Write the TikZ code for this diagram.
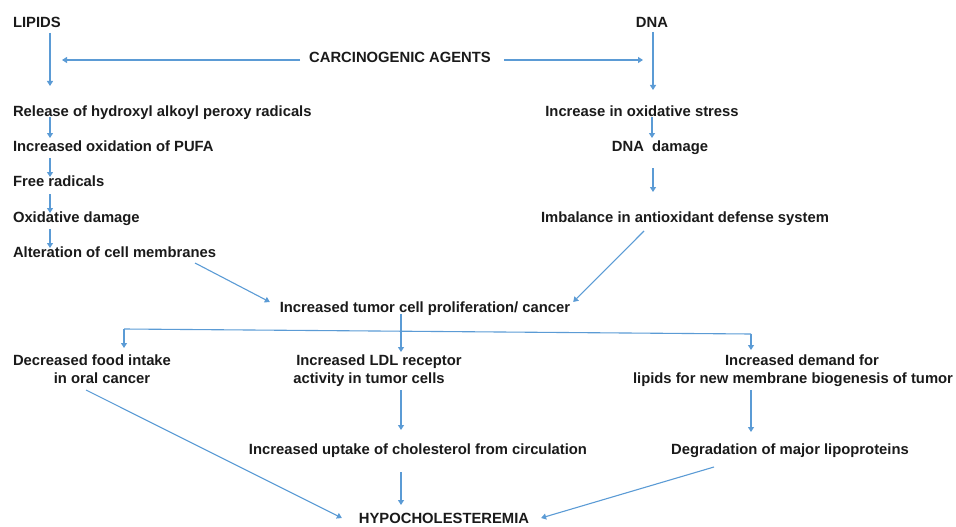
\documentclass[tikz,border=0pt]{standalone}
\usepackage{fontspec}
\setmainfont{Liberation Sans}
\usetikzlibrary{arrows.meta,calc}
\definecolor{arrblue}{HTML}{5B9BD5}
\definecolor{txt}{HTML}{1A1A1A}
\begin{document}
\begin{tikzpicture}[x=1pt,y=-1pt,
  lbl/.style={inner sep=0pt,outer sep=0pt,text=txt,font=\fontsize{14.8}{18.3}\selectfont\bfseries,text height=11pt,text depth=3pt},
  lbl2/.style={inner sep=0pt,outer sep=0pt,text=txt,font=\fontsize{14.8}{18.3}\selectfont\bfseries,align=center,anchor=north},
  arr/.style={draw=arrblue,line width=1.1pt,-{Triangle[length=5pt,width=6pt]}},
  ln/.style={draw=arrblue,line width=1.1pt}]
\path[use as bounding box] (0,0) rectangle (956,527);
% left column
\node[lbl,anchor=base west] (lipids) at (13,27.3) {LIPIDS};
\node[lbl,anchor=base] (dna) at (652,27.3) {DNA};
\node[lbl,anchor=base] (carc) at (400,62.3) {CARCINOGENIC AGENTS};
\node[lbl,anchor=base west] (release) at (13,116.3) {Release of hydroxyl alkoyl peroxy radicals};
\node[lbl,anchor=base west] (pufa) at (13,151.3) {Increased oxidation of PUFA};
\node[lbl,anchor=base west] (free) at (13,186.3) {Free radicals};
\node[lbl,anchor=base west] (oxd) at (13,222.3) {Oxidative damage};
\node[lbl,anchor=base west] (alter) at (13,257.3) {Alteration of cell membranes};
% right column
\node[lbl,anchor=base] (stress) at (642,116.3) {Increase in oxidative stress};
\node[lbl,anchor=base] (dnadam) at (660,151.3) {DNA\ \ damage};
\node[lbl,anchor=base] (imbal) at (685,222.3) {Imbalance in antioxidant defense system};
% middle
\node[lbl,anchor=base] (prolif) at (425,312.3) {Increased tumor cell proliferation/ cancer};
\node[lbl2] (food) at (92,354.5) {Decreased food intake\\\hspace*{20pt}in oral cancer};
\node[lbl2] (ldl) at (369,354.5) {\hspace*{20pt}Increased LDL receptor\\activity in tumor cells};
\node[lbl2] (demand) at (793,354.5) {\hspace*{18pt}Increased demand for\\lipids for new membrane biogenesis of tumor};
\node[lbl,anchor=base] (uptake) at (418,454.3) {Increased uptake of cholesterol from circulation};
\node[lbl,anchor=base] (degr) at (790,454.3) {Degradation of major lipoproteins};
\node[lbl,anchor=base] (hypo) at (444,523.3) {HYPOCHOLESTEREMIA};
% left column arrows
\draw[arr] ($(lipids.south west)+(37,2.7)$) -- ($(release.north west)+(37,-19.3)$);
\draw[arr] ($(release.south west)+(37,-2.3)$) -- ($(pufa.north west)+(37,-2.3)$);
\draw[arr] ($(pufa.south west)+(37,3.7)$) -- ($(free.north west)+(37,1.7)$);
\draw[arr] ($(free.south west)+(37,4.7)$) -- ($(oxd.north west)+(37,1.7)$);
\draw[arr] ($(oxd.south west)+(37,3.7)$) -- ($(alter.north west)+(37,1.7)$);
% carcinogenic agents
\draw[arr] ($(carc.west)+(-9,1.7)$) -- ($(lipids.south west)+(49,29.7)$);
\draw[arr] ($(carc.east)+(13,1.7)$) -- ($(dna.south)+(-9,29.7)$);
% right column arrows
\draw[arr] ($(dna.south)+(1,1.7)$) -- ($(stress.north)+(11,-15.3)$);
\draw[arr] ($(stress.south)+(10,-2.3)$) -- ($(dnadam.north)+(-8,-2.3)$);
\draw[arr] ($(dnadam.south)+(-7,13.7)$) -- ($(imbal.north)+(-32,-19.3)$);
% to proliferation
\draw[arr] ($(imbal.south)+(-41,5.7)$) -- ($(prolif.east)+(3,-6.3)$);
\draw[arr] ($(alter.south west)+(182,2.7)$) -- ($(prolif.west)+(-10,-6.3)$);
% branching
\coordinate (bl) at ($(food.north)+(32,-25.5)$);
\coordinate (br) at ($(demand.north)+(-42,-20.5)$);
\draw[ln] (bl) -- (br);
\draw[arr] (bl) -- ($(food.north)+(32,-6.5)$);
\draw[arr] (br) -- ($(demand.north)+(-42,-4.5)$);
\draw[arr] ($(prolif.south)+(-24,-1.3)$) -- ($(ldl.north)+(32,-2.5)$);
% lower part
\draw[arr] ($(ldl.north)+(32,35.5)$) -- ($(uptake.north)+(-17,-13.3)$);
\draw[arr] ($(uptake.south)+(-17,14.7)$) -- ($(hypo.north)+(-43,-7.3)$);
\draw[arr] ($(demand.north)+(-42,35.5)$) -- ($(degr.north)+(-39,-11.3)$);
\draw[arr] ($(degr.south)+(-76,9.7)$) -- ($(hypo.east)+(12,-1.3)$);
\draw[arr] ($(food.north)+(-6,35.5)$) -- ($(hypo.west)+(-17,-1.3)$);
\end{tikzpicture}
\end{document}
